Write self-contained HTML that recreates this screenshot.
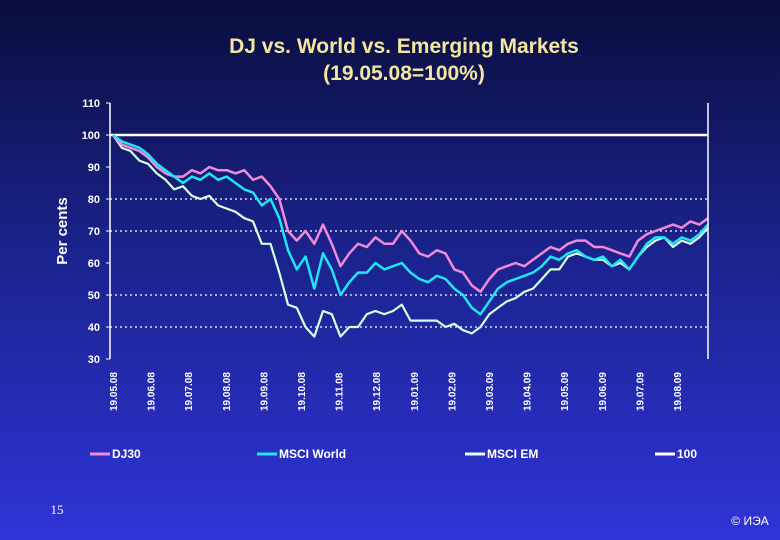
<!DOCTYPE html>
<html><head><meta charset="utf-8"><style>
html,body{margin:0;padding:0;width:780px;height:540px;overflow:hidden}
body{background:linear-gradient(#0a0d3c 0%,#1a228a 45%,#2f34d8 100%);font-family:"Liberation Sans",sans-serif}
</style></head><body>
<svg id="c" width="780" height="540" xmlns="http://www.w3.org/2000/svg">
<text x="404" y="53" text-anchor="middle" font-size="21" font-weight="bold" fill="#f3e7a0">DJ vs. World vs. Emerging Markets</text>
<text x="404" y="80" text-anchor="middle" font-size="21" font-weight="bold" fill="#f3e7a0">(19.05.08=100%)</text>
<text transform="translate(67,231) rotate(-90)" text-anchor="middle" font-size="15" font-weight="bold" fill="#fff">Per cents</text>
<g id="grid"></g><g id="series"></g><g id="axes"></g><g id="legend"></g>
<text x="57" y="514" text-anchor="middle" font-family="Liberation Serif,serif" font-size="13" fill="#fff">15</text>
<text x="750" y="525" text-anchor="middle" font-size="12" fill="#fff">© ИЭА</text>
</svg>
<script>
const xLabels=["19.05.08","19.06.08","19.07.08","19.08.08","19.09.08","19.10.08","19.11.08","19.12.08","19.01.09","19.02.09","19.03.09","19.04.09","19.05.09","19.06.09","19.07.09","19.08.09"];
const yTicks=[30,40,50,60,70,80,90,100,110];
const dottedTicks=[40,50,70,80];
const dj30=[100,97,96,95,93,90,88,87,87,89,88,90,89,89,88,89,86,87,84,80,70,67,70,66,72,66,59,63,66,65,68,66,66,70,67,63,62,64,63,58,57,53,51,55,58,59,60,59,61,63,65,64,66,67,67,65,65,64,63,62,67,69,70,71,72,71,73,72,74];
const msciWorld=[100,98,97,96,94,91,89,87,85,87,86,88,86,87,85,83,82,78,80,74,64,58,62,52,63,58,50,54,57,57,60,58,59,60,57,55,54,56,55,52,50,46,44,48,52,54,55,56,57,59,62,61,63,64,62,61,62,59,61,58,62,66,68,68,66,68,67,69,72];
const msciEM=[100,96,95,92,91,88,86,83,84,81,80,81,78,77,76,74,73,66,66,57,47,46,40,37,45,44,37,40,40,44,45,44,45,47,42,42,42,42,40,41,39,38,40,44,46,48,49,51,52,55,58,58,62,63,62,61,61,59,60,58,62,65,67,68,65,67,66,68,71];
const ref100=[100,100];
const NS="http://www.w3.org/2000/svg";
const L=110,R=708,T=103,B=359,X0=113,WK=8.75;
const ys=v=>B-(v-30)*(B-T)/80;
const xs=i=>X0+i*WK;
function mk(t,a,p){const e=document.createElementNS(NS,t);for(const k in a)e.setAttribute(k,a[k]);p.appendChild(e);return e;}
const grid=document.getElementById('grid'),axes=document.getElementById('axes'),ser=document.getElementById('series'),leg=document.getElementById('legend');
dottedTicks.forEach(v=>{const l=mk('line',{x1:L,x2:R,y1:ys(v),y2:ys(v),stroke:'#fff','stroke-width':1.2,'stroke-dasharray':'2,3'},grid);

});
const ax=mk('line',{x1:L,x2:L,y1:T,y2:B,stroke:'#fff','stroke-width':1.5},axes);


const rb=mk('line',{x1:R,x2:R,y1:T,y2:B,stroke:'#fff','stroke-width':1.5},axes);


yTicks.forEach(v=>{const t=mk('text',{x:L-10,y:ys(v)+4,'text-anchor':'end','font-size':11,'font-weight':'bold',fill:'#fff'},axes);t.textContent=v;


mk('line',{x1:L-4,x2:L,y1:ys(v),y2:ys(v),stroke:'#fff'},axes);});
xLabels.forEach((s,i)=>{const x=X0+i*37.6+4;const t=mk('text',{transform:`translate(${x},${B+52}) rotate(-90)`,'font-size':10,'font-weight':'bold',fill:'#fff'},axes);t.textContent=s;

});
function line(arr,col,w,name){const d=arr.map((v,i)=>(i?'L':'M')+xs(i).toFixed(1)+','+ys(v).toFixed(1)).join('');
const p=mk('path',{d:d,fill:'none',stroke:col,'stroke-width':w,'stroke-linejoin':'round'},ser);

}
const r=mk('line',{x1:L,x2:R,y1:ys(ref100[0]),y2:ys(ref100[1]),stroke:'#fff','stroke-width':2.5},ser);


line(msciEM,'#d8ffe8',2.2,'line-msci-em');
line(dj30,'#f08ad8',2.5,'line-dj30');
line(msciWorld,'#1ee6f5',2.5,'line-msci-world');
[['DJ30','#f08ad8',90],['MSCI World','#1ee6f5',257],['MSCI EM','#e8fff0',465],['100','#fff',655]].forEach(([n,c,x])=>{
const g=mk('g',{},leg);


mk('line',{x1:x,x2:x+20,y1:454,y2:454,stroke:c,'stroke-width':3},g);
const t=mk('text',{x:x+22,y:458,'font-size':12,'font-weight':'bold',fill:'#fff'},g);t.textContent=n;});
</script>
</body></html>
